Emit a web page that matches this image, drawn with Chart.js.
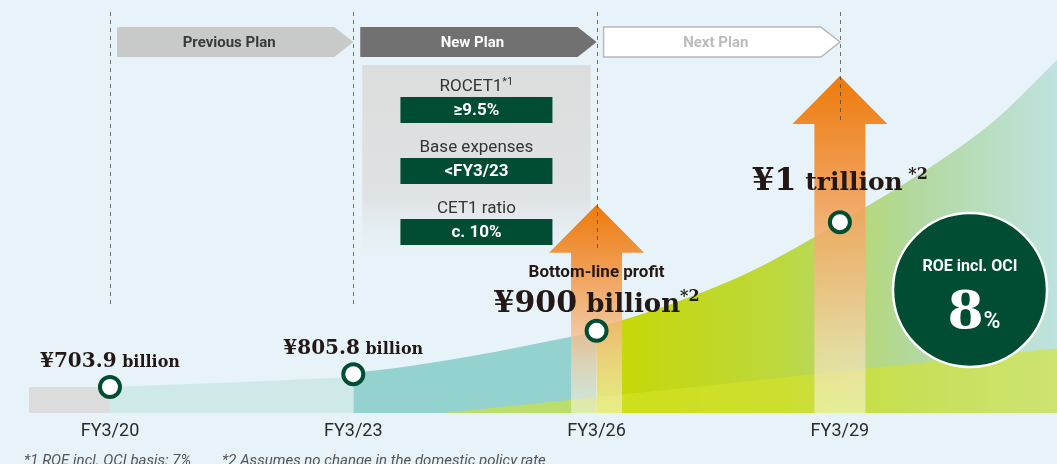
<!DOCTYPE html>
<html>
<head>
<meta charset="utf-8">
<script src="https://cdn.jsdelivr.net/npm/chart.js@4.4.1/dist/chart.umd.min.js"></script>
<style>
  html, body { margin: 0; padding: 0; background: #e7f3f8; }
  #wrap { width: 1057px; height: 464px; position: relative; }
</style>
</head>
<body>
<div id="wrap"><canvas id="c"></canvas></div>
<script>
// timeline (fiscal years ending March)
const years = [2020, 2023, 2026, 2029];
const yearLabels = ['FY3/20', 'FY3/23', 'FY3/26', 'FY3/29'];

// bottom-line profit
const profit = [703.9, 805.8, 900, 1000];
const profitText = ['703.9', '805.8', '900', '1'];
const profitUnit = ['billion', 'billion', 'billion', 'trillion'];
const profitNote = ['', '', '*2', '*2'];

// marker height on the growth curve (index, 0 = base line)
const markerLevel = [6.3, 9.4, 19.9, 46.2];

// growth bands: x = year, y = index level
const prevX = [2019, 2020];
const prevY = [6.3, 6.3];
const lightX = [2020, 2021.66, 2023];
const lightY = [6.3, 7.5, 8.7];
const tealX = [2023, 2023.7, 2024.5, 2025.67, 2026];
const tealY = [9.7, 11.4, 13.9, 18.4, 19.6];
const greenX = [2026, 2026.75, 2027.86, 2029, 2030.28, 2030.93, 2031.68];
const greenY = [20.6, 25.2, 33.9, 46.2, 61.7, 71.2, 85.5];
const roeX = [2024.1, 2027.3, 2031.68];
const roeY = [0, 6.5, 15.7];

// growth arrows
const arrowYears = [2026, 2029];
const arrowTop = [50.4, 81.6];

// plan periods
const planNames = ['Previous Plan', 'New Plan', 'Next Plan'];
const planStart = [2020, 2023, 2026];
const planEnd = [2023, 2026, 2029];

// new plan targets
const targetNames = ['ROCET1', 'Base expenses', 'CET1 ratio'];
const targetNotes = ['*1', '', ''];
const targetValues = ['\u22659.5%', '<FY3/23', 'c. 10%'];

const roeTarget = '8';

const pts = (xs, ys) => xs.map((x, i) => ({x: x, y: ys[i]}));

const SERIF = '"DejaVu Serif", serif';
const SANS = 'Roboto, "Noto Sans", sans-serif';
const INK = '#231815';
const DARK_GREEN = '#004d34';

function drawRuns(ctx, runs, cx, baseY) {
    let w = 0;
    runs.forEach(r => { ctx.font = r.font; r.w = ctx.measureText(r.text).width; w += r.w; });
    let x = cx - w / 2;
    ctx.textAlign = 'left';
    ctx.textBaseline = 'alphabetic';
    runs.forEach(r => {
        ctx.font = r.font;
        ctx.fillStyle = r.color || INK;
        ctx.fillText(r.text, x, baseY - (r.rise || 0));
        x += r.w;
    });
}

function greenFill(context) {
    const chart = context.chart;
    const area = chart.chartArea;
    if (!area) return '#c6d800';
    const x0 = chart.scales.x.getPixelForValue(2026);
    const g = chart.ctx.createLinearGradient(x0, 0, area.right, 0);
    g.addColorStop(0, '#c6d800');
    g.addColorStop(0.4, '#bdd83e');
    g.addColorStop(0.68, '#b2d89c');
    g.addColorStop(1, '#bee3e0');
    return g;
}

const artPlugin = {
    id: 'art',
    beforeDraw(chart) {
        const ctx = chart.ctx;
        ctx.save();
        ctx.fillStyle = '#e7f3f8';
        ctx.fillRect(0, 0, chart.width, chart.height);
        ctx.restore();
    },
    beforeDatasetsDraw(chart) {
        const ctx = chart.ctx;
        const xs = chart.scales.x;
        const top = chart.chartArea.top;
        ctx.save();
        // plan banners
        const fills = ['#c8c9c9', '#717171', '#ffffff'];
        const inks = ['#3a3a3a', '#ffffff', '#bcbcbc'];
        for (let i = 0; i < planNames.length; i++) {
            const l = xs.getPixelForValue(planStart[i]) + 7;
            const r = xs.getPixelForValue(planEnd[i]);
            const t = top + 27, b = top + 57, m = (t + b) / 2;
            ctx.beginPath();
            ctx.moveTo(l, t);
            ctx.lineTo(r - 19, t);
            ctx.lineTo(r, m);
            ctx.lineTo(r - 19, b);
            ctx.lineTo(l, b);
            ctx.closePath();
            ctx.fillStyle = fills[i];
            ctx.fill();
            if (i === 2) {
                ctx.strokeStyle = '#b8b8b8';
                ctx.lineWidth = 1.5;
                ctx.stroke();
            }
            ctx.fillStyle = inks[i];
            ctx.font = 'bold 15px ' + SANS;
            ctx.textAlign = 'center';
            ctx.textBaseline = 'middle';
            ctx.fillText(planNames[i], (l + r - 12) / 2, m + 1);
        }
        // new plan targets box
        const bl = xs.getPixelForValue(2023) + 9;
        const br = xs.getPixelForValue(2026) - 6;
        const bt = top + 65, bb = top + 268;
        const g = ctx.createLinearGradient(0, bt, 0, bb);
        g.addColorStop(0, '#dcdddd');
        g.addColorStop(0.65, '#dfe2e3');
        g.addColorStop(1, 'rgba(231,243,248,0)');
        ctx.fillStyle = g;
        ctx.fillRect(bl, bt, br - bl, bb - bt);
        const cx = (bl + br) / 2;
        for (let i = 0; i < targetNames.length; i++) {
            const y = bt + 20 + i * 61;
            drawRuns(ctx, [
                {text: targetNames[i], font: '17px ' + SANS, color: '#333'},
                {text: targetNotes[i], font: '11px ' + SANS, color: '#333', rise: 6}
            ], cx, y + 6);
            ctx.fillStyle = DARK_GREEN;
            ctx.fillRect(cx - 76, y + 12, 152, 26);
            ctx.fillStyle = '#fff';
            ctx.font = 'bold 17px ' + SANS;
            ctx.textAlign = 'center';
            ctx.textBaseline = 'middle';
            ctx.fillText(targetValues[i], cx, y + 26);
        }
        ctx.restore();
    },
    beforeDatasetDraw(chart, args) {
        if (args.index !== 0) return;
        const ctx = chart.ctx;
        const xs = chart.scales.x, ys = chart.scales.y;
        const base = ys.getPixelForValue(0);
        ctx.save();
        // arrows
        for (let i = 0; i < arrowYears.length; i++) {
            const cx = xs.getPixelForValue(arrowYears[i]);
            const tip = ys.getPixelForValue(arrowTop[i]);
            const g = ctx.createLinearGradient(0, tip, 0, base);
            g.addColorStop(0, 'rgba(237,122,10,1)');
            g.addColorStop(0.3, 'rgba(240,152,72,0.95)');
            g.addColorStop(0.65, 'rgba(244,192,142,0.8)');
            g.addColorStop(1, 'rgba(255,252,235,0.5)');
            ctx.beginPath();
            ctx.moveTo(cx, tip);
            ctx.lineTo(cx + 47.5, tip + 48);
            ctx.lineTo(cx + 25.5, tip + 48);
            ctx.lineTo(cx + 25.5, base);
            ctx.lineTo(cx - 25.5, base);
            ctx.lineTo(cx - 25.5, tip + 48);
            ctx.lineTo(cx - 47.5, tip + 48);
            ctx.closePath();
            ctx.fillStyle = g;
            ctx.fill();
        }
        // dashed year guides
        ctx.strokeStyle = 'rgba(70,70,70,0.75)';
        ctx.lineWidth = 1;
        ctx.setLineDash([4, 4]);
        const top = chart.chartArea.top + 12;
        years.forEach(yr => {
            const x = Math.round(xs.getPixelForValue(yr)) + 0.5;
            const k = arrowYears.indexOf(yr);
            const end = k >= 0 ? ys.getPixelForValue(arrowTop[k]) + 44 : ys.getPixelForValue(26.2);
            ctx.beginPath();
            ctx.moveTo(x, top);
            ctx.lineTo(x, end);
            ctx.stroke();
        });
        ctx.restore();
    },
    afterDatasetsDraw(chart) {
        const ctx = chart.ctx;
        const xs = chart.scales.x, ys = chart.scales.y;
        const area = chart.chartArea;
        ctx.save();
        // profit labels
        for (let i = 0; i < years.length; i++) {
            const cx = xs.getPixelForValue(years[i]);
            const cy = ys.getPixelForValue(markerLevel[i]);
            let runs, by;
            if (i < 2) {
                runs = [
                    {text: '\u00a5' + profitText[i], font: 'bold 20px ' + SERIF},
                    {text: ' ' + profitUnit[i], font: 'bold 16px ' + SERIF}
                ];
                by = cy - 20;
            } else if (i === 2) {
                runs = [
                    {text: '\u00a5' + profitText[i], font: 'bold 30px ' + SERIF},
                    {text: ' ' + profitUnit[i], font: 'bold 26px ' + SERIF},
                    {text: profitNote[i], font: 'bold 16px ' + SERIF, rise: 11}
                ];
                by = cy - 19;
                ctx.font = 'bold 17px ' + SANS;
                ctx.fillStyle = INK;
                ctx.textAlign = 'center';
                ctx.textBaseline = 'alphabetic';
                ctx.fillText('Bottom-line profit', cx, by - 35);
            } else {
                runs = [
                    {text: '\u00a5' + profitText[i], font: 'bold 32px ' + SERIF},
                    {text: ' ' + profitUnit[i], font: 'bold 25px ' + SERIF},
                    {text: ' ' + profitNote[i], font: 'bold 16px ' + SERIF, rise: 11}
                ];
                by = cy - 32;
            }
            drawRuns(ctx, runs, cx, by);
        }
        // ROE badge
        const rx = area.right - 87, ry = area.bottom - 123;
        ctx.beginPath();
        ctx.arc(rx, ry, 77, 0, Math.PI * 2);
        ctx.fillStyle = DARK_GREEN;
        ctx.fill();
        ctx.lineWidth = 2.5;
        ctx.strokeStyle = '#fff';
        ctx.stroke();
        ctx.fillStyle = '#fff';
        ctx.font = 'bold 16px ' + SANS;
        ctx.textAlign = 'center';
        ctx.textBaseline = 'middle';
        ctx.fillText('ROE incl. OCI', rx, ry - 23);
        drawRuns(ctx, [
            {text: roeTarget, font: 'bold 52px ' + SERIF, color: '#fff'},
            {text: '%', font: '500 23px ' + SANS, color: '#fff'}
        ], rx + 4, ry + 38);
        // footnotes
        ctx.fillStyle = '#555';
        ctx.font = 'italic 15px ' + SANS;
        ctx.textAlign = 'left';
        ctx.textBaseline = 'alphabetic';
        ctx.fillText('*1 ROE incl. OCI basis: 7%', 24, chart.height + 1);
        ctx.fillText('*2 Assumes no change in the domestic policy rate', 222, chart.height + 1);
        ctx.restore();
    }
};

new Chart(document.getElementById('c'), {
    type: 'line',
    data: {
        datasets: [
            {
                label: 'Bottom-line profit',
                data: pts(years, markerLevel),
                showLine: false,
                pointRadius: 10,
                pointBorderWidth: 4,
                pointBackgroundColor: '#ffffff',
                pointBorderColor: DARK_GREEN,
                order: 0
            },
            {
                label: 'ROE band',
                data: pts(roeX, roeY),
                fill: 'origin',
                backgroundColor: 'rgba(214,228,40,0.6)',
                borderColor: 'transparent',
                borderWidth: 0,
                pointRadius: 0,
                tension: 0,
                order: 1
            },
            {
                label: 'Next plan',
                data: pts(greenX, greenY),
                fill: 'origin',
                backgroundColor: greenFill,
                borderColor: 'transparent',
                borderWidth: 0,
                pointRadius: 0,
                cubicInterpolationMode: 'monotone',
                order: 2
            },
            {
                label: 'New plan',
                data: pts(tealX, tealY),
                fill: 'origin',
                backgroundColor: '#94d2d0',
                borderColor: 'transparent',
                borderWidth: 0,
                pointRadius: 0,
                cubicInterpolationMode: 'monotone',
                order: 3
            },
            {
                label: 'Previous plan',
                data: pts(lightX, lightY),
                fill: 'origin',
                backgroundColor: '#cfe8e8',
                borderColor: 'transparent',
                borderWidth: 0,
                pointRadius: 0,
                cubicInterpolationMode: 'monotone',
                order: 4
            },
            {
                label: 'Before',
                data: pts(prevX, prevY),
                fill: 'origin',
                backgroundColor: '#dcdcdc',
                borderColor: 'transparent',
                borderWidth: 0,
                pointRadius: 0,
                order: 5
            }
        ]
    },
    options: {
        responsive: true,
        maintainAspectRatio: false,
        animation: false,
        layout: { padding: 0, autoPadding: false },
        plugins: {
            legend: { display: false },
            tooltip: { enabled: false }
        },
        scales: {
            x: {
                type: 'linear',
                min: 2018.644,
                max: 2031.677,
                grid: { display: false, drawTicks: false },
                border: { display: false },
                afterBuildTicks: s => { s.ticks = years.map(v => ({value: v})); },
                afterFit: s => { s.height = 51; s.paddingLeft = 0; s.paddingRight = 0; },
                ticks: {
                    padding: 8,
                    maxRotation: 0,
                    autoSkip: false,
                    color: '#2b2b2b',
                    font: { family: 'Roboto', size: 18 },
                    callback: (v, i) => yearLabels[i]
                }
            },
            y: { display: false, min: 0, max: 100 }
        }
    },
    plugins: [artPlugin]
});
</script>
</body>
</html>
